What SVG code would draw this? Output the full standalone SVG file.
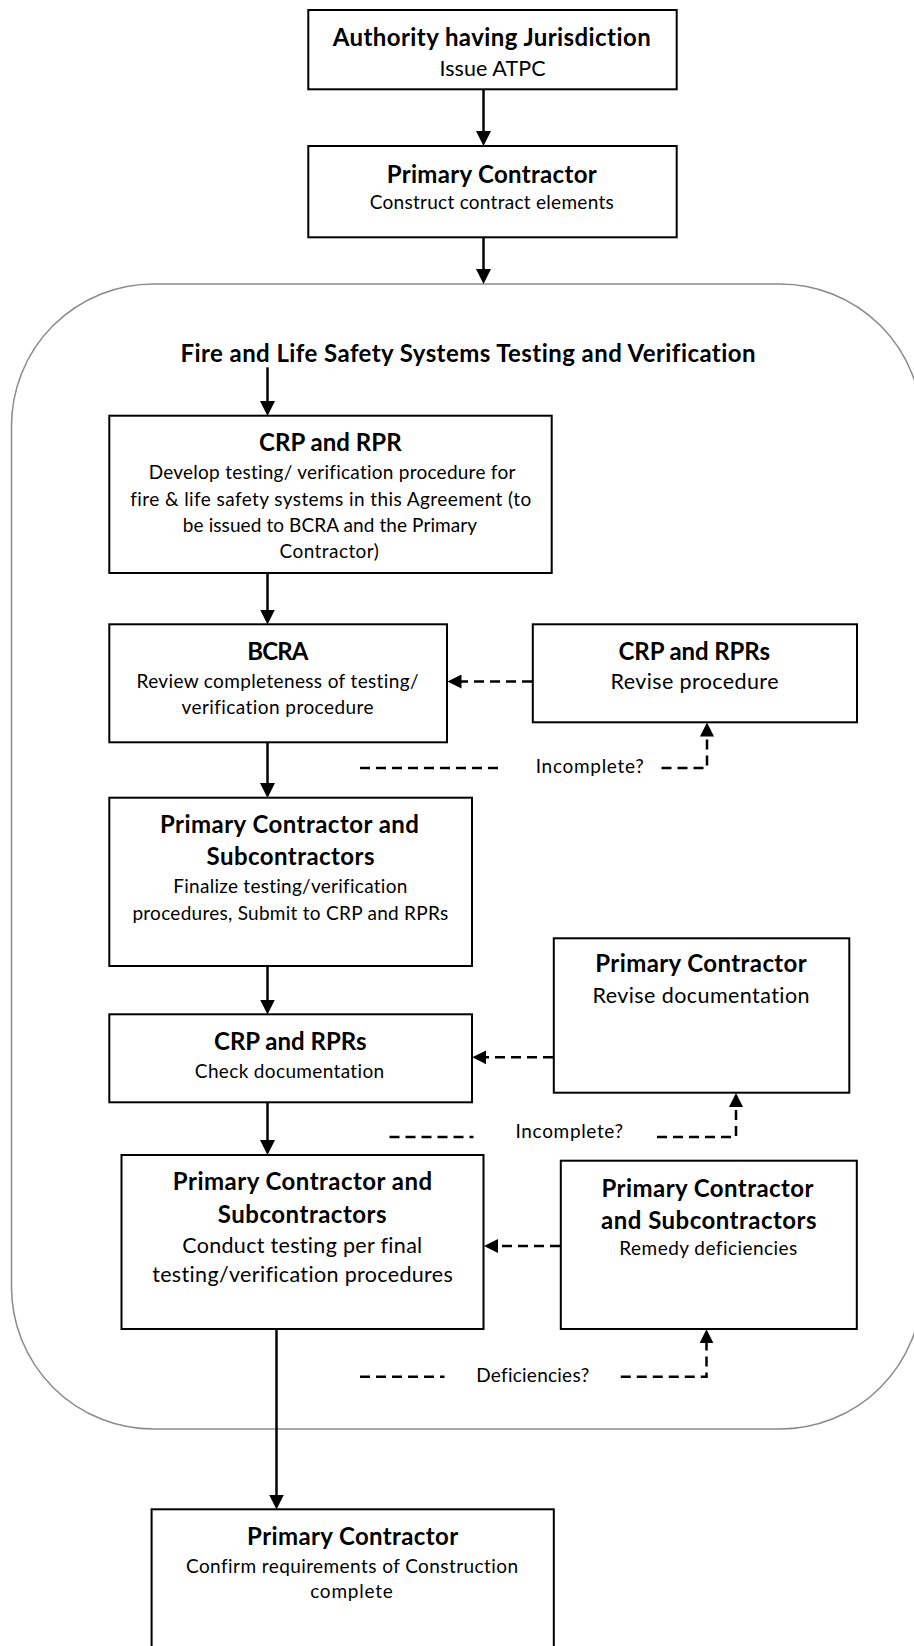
<svg xmlns="http://www.w3.org/2000/svg" width="914" height="1646" viewBox="0 0 914 1646">
<style>
text{font-variant-ligatures:none;font-feature-settings:"liga" 0,"dlig" 0}
.box{fill:#fff;stroke:#000;stroke-width:2}
.h{font-family:Lato,"Liberation Sans",sans-serif;font-weight:bold;font-size:24px;fill:#000;text-anchor:middle}
.t{font-family:Lato,"Liberation Sans",sans-serif;font-size:19px;fill:#000;text-anchor:middle}
.tl{font-family:Lato,"Liberation Sans",sans-serif;font-size:21.5px;fill:#000;text-anchor:middle}
.solid{fill:none;stroke:#000;stroke-width:2.5}
.dash{fill:none;stroke:#000;stroke-width:2.5;stroke-dasharray:10 6}
.container{fill:none;stroke:#8a8a8a;stroke-width:1.5}
</style>
<defs>
<marker id="ah" viewBox="0 0 14 14" refX="2" refY="7" markerWidth="14" markerHeight="14" markerUnits="userSpaceOnUse" orient="auto">
<path d="M0,0 L14,7 L0,14 z" fill="#000"/>
</marker>
<marker id="ahs" viewBox="0 0 15 15" refX="2" refY="7.5" markerWidth="15" markerHeight="15" markerUnits="userSpaceOnUse" orient="auto">
<path d="M0,0 L15,7.5 L0,15 z" fill="#000"/>
</marker>
</defs>

<g id="container">
<path class="container" d="M153.5,284 H780 A142,142 0 0 1 922,426 V1287 A142,142 0 0 1 780,1429 H153.5 A142,142 0 0 1 11.5,1287 V426 A142,142 0 0 1 153.5,284 Z"/>
<text class="h" x="468" y="361.7" textLength="575">Fire and Life Safety Systems Testing and Verification</text>
</g>

<g id="connectors">
<path class="solid" d="M483.5,89.3 V133" marker-end="url(#ahs)"/>
<path class="solid" d="M483.5,237.3 V271" marker-end="url(#ahs)"/>
<path class="solid" d="M267.5,367.3 V403" marker-end="url(#ahs)"/>
<path class="solid" d="M267.5,573 V611.5" marker-end="url(#ahs)"/>
<path class="solid" d="M267.5,742.3 V785" marker-end="url(#ahs)"/>
<path class="solid" d="M267.5,966 V1001.5" marker-end="url(#ahs)"/>
<path class="solid" d="M267.5,1102.3 V1142" marker-end="url(#ahs)"/>
<path class="solid" d="M276.5,1329 V1496.5" marker-end="url(#ahs)"/>

<path class="dash" d="M532,681.5 H459.5" marker-end="url(#ah)"/>
<path class="dash" d="M360,768 H500"/>
<path class="dash" d="M661.5,768 H707 V734.5" marker-end="url(#ah)"/>

<path class="dash" d="M553,1057.3 H484.3" marker-end="url(#ah)"/>
<path class="dash" d="M389.5,1137 H473.5"/>
<path class="dash" d="M657,1137 H736 V1105" marker-end="url(#ah)"/>

<path class="dash" d="M560,1246 H496" marker-end="url(#ah)"/>
<path class="dash" d="M360,1376.7 H444.5"/>
<path class="dash" d="M620.8,1376.7 H706.5 V1341.3" marker-end="url(#ah)"/>

<text class="t" x="589.7" y="773.3" textLength="108">Incomplete?</text>
<text class="t" x="569.3" y="1138" textLength="107.6">Incomplete?</text>
<text class="t" x="532.7" y="1382" textLength="113">Deficiencies?</text>
</g>

<g id="n-ahj">
<rect class="box" x="308.3" y="10" width="368.4" height="79.3"/>
<text class="h" x="491.7" y="45.7" textLength="318">Authority having Jurisdiction</text>
<text class="tl" x="492.5" y="76" textLength="106">Issue ATPC</text>
</g>

<g id="n-pc">
<rect class="box" x="308.3" y="146" width="368.4" height="91.3"/>
<text class="h" x="491.7" y="182.7" textLength="210">Primary Contractor</text>
<text class="t" x="491.7" y="209.3" textLength="244">Construct contract elements</text>
</g>

<g id="n-crp-rpr">
<rect class="box" x="109.3" y="415.7" width="442.4" height="157.3"/>
<text class="h" x="330.3" y="450.7" textLength="142.6">CRP and RPR</text>
<text class="t" x="332" y="479.3" textLength="366.7">Develop testing/ verification procedure for</text>
<text class="t" x="330.7" y="506" textLength="401">fire &amp; life safety systems in this Agreement (to</text>
<text class="t" x="330" y="532.3" textLength="294.3">be issued to BCRA and the Primary</text>
<text class="t" x="329.2" y="558.3" textLength="99.3">Contractor)</text>
</g>

<g id="n-bcra">
<rect class="box" x="109.3" y="624.3" width="337.7" height="118"/>
<text class="h" x="277.8" y="660" textLength="61">BCRA</text>
<text class="t" x="277.5" y="688.3" textLength="282">Review completeness of testing/</text>
<text class="t" x="277.5" y="714.3" textLength="192">verification procedure</text>
</g>

<g id="n-revise-procedure">
<rect class="box" x="532.8" y="624.3" width="324.2" height="98"/>
<text class="h" x="694.3" y="660" textLength="151.5">CRP and RPRs</text>
<text class="tl" x="694.5" y="689" textLength="168">Revise procedure</text>
</g>

<g id="n-finalize">
<rect class="box" x="109.3" y="797.7" width="362.7" height="168.3"/>
<text class="h" x="289.4" y="833.3" textLength="259">Primary Contractor and</text>
<text class="h" x="290.5" y="865" textLength="168">Subcontractors</text>
<text class="t" x="290.3" y="893.3" textLength="234">Finalize testing/verification</text>
<text class="t" x="290.3" y="920" textLength="315.8">procedures, Submit to CRP and RPRs</text>
</g>

<g id="n-revise-doc">
<rect class="box" x="553.8" y="938.3" width="295.5" height="154.4"/>
<text class="h" x="701" y="971.7" textLength="211.5">Primary Contractor</text>
<text class="tl" x="701" y="1003.3" textLength="217">Revise documentation</text>
</g>

<g id="n-check">
<rect class="box" x="109.3" y="1014.3" width="362.7" height="88"/>
<text class="h" x="290.3" y="1050" textLength="152.5">CRP and RPRs</text>
<text class="t" x="289.5" y="1078.3" textLength="189.3">Check documentation</text>
</g>

<g id="n-conduct">
<rect class="box" x="121.5" y="1155" width="362" height="174"/>
<text class="h" x="302.5" y="1190" textLength="259.3">Primary Contractor and</text>
<text class="h" x="302.2" y="1222.7" textLength="168.7">Subcontractors</text>
<text class="tl" x="302.2" y="1252.7" textLength="240">Conduct testing per final</text>
<text class="tl" x="302.5" y="1281.7" textLength="300.7">testing/verification procedures</text>
</g>

<g id="n-remedy">
<rect class="box" x="560.8" y="1160.7" width="296" height="168.3"/>
<text class="h" x="707.5" y="1196.7" textLength="212">Primary Contractor</text>
<text class="h" x="708.8" y="1229.3" textLength="215.5">and Subcontractors</text>
<text class="t" x="708.3" y="1255" textLength="178">Remedy deficiencies</text>
</g>

<g id="n-confirm">
<rect class="box" x="151.6" y="1509.3" width="402.2" height="160"/>
<text class="h" x="352.6" y="1545" textLength="211">Primary Contractor</text>
<text class="t" x="352" y="1572.7" textLength="332">Confirm requirements of Construction</text>
<text class="t" x="351.5" y="1598.3" textLength="82.6">complete</text>
</g>
</svg>
